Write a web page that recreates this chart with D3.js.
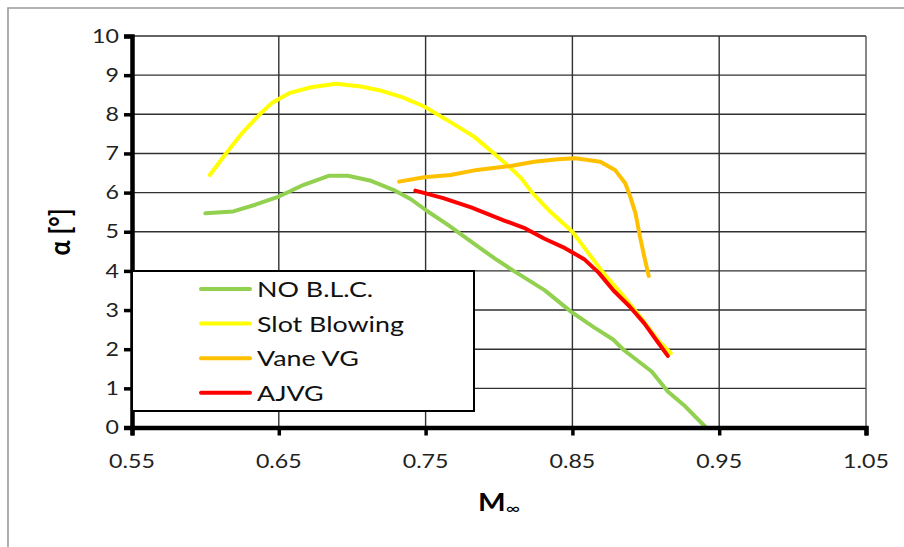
<!DOCTYPE html>
<html>
<head>
<meta charset="utf-8">
<script src="https://cdn.jsdelivr.net/npm/d3@7/dist/d3.min.js"></script>
<style>
  html, body { margin: 0; padding: 0; background: #fff; }
  svg { display: block; font-family: Lato, "Open Sans", sans-serif; }
</style>
</head>
<body>
<svg id="chart" width="904" height="547"></svg>
<script>
// Angle of attack α [°] against free-stream Mach number for four boundary-layer control cases
const seriesNames = ["NO B.L.C.", "Slot Blowing", "Vane VG", "AJVG"];
const seriesColors = ["#92D050", "#FFFF00", "#FFC000", "#FF0000"];

const noBLC = [
  [0.600,5.47],[0.619,5.52],[0.634,5.69],[0.650,5.90],[0.667,6.20],[0.684,6.43],
  [0.697,6.43],[0.712,6.31],[0.728,6.07],[0.740,5.83],[0.751,5.53],[0.765,5.18],
  [0.781,4.75],[0.797,4.32],[0.810,4.00],[0.831,3.51],[0.849,2.96],[0.865,2.55],
  [0.878,2.24],[0.885,1.98],[0.904,1.43],[0.915,0.92],[0.926,0.57],[0.941,0.00]
];
const slotBlowing = [
  [0.603,6.45],[0.614,7.00],[0.625,7.52],[0.637,8.00],[0.645,8.28],[0.657,8.54],
  [0.672,8.69],[0.689,8.78],[0.706,8.71],[0.719,8.61],[0.734,8.44],[0.749,8.20],
  [0.767,7.80],[0.783,7.43],[0.795,7.05],[0.807,6.66],[0.815,6.37],[0.823,5.98],
  [0.835,5.51],[0.850,5.00],[0.860,4.50],[0.871,3.95],[0.884,3.39],[0.897,2.79],
  [0.908,2.24],[0.917,1.90]
];
const vaneVG = [
  [0.732,6.28],[0.749,6.39],[0.767,6.45],[0.785,6.58],[0.808,6.68],[0.824,6.79],
  [0.840,6.85],[0.852,6.88],[0.869,6.79],[0.879,6.58],[0.886,6.24],[0.889,5.94],
  [0.893,5.47],[0.896,4.88],[0.899,4.36],[0.902,3.87]
];
const ajvg = [
  [0.743,6.05],[0.762,5.86],[0.781,5.62],[0.804,5.28],[0.817,5.10],[0.831,4.82],
  [0.845,4.58],[0.858,4.30],[0.868,3.95],[0.878,3.50],[0.889,3.09],[0.899,2.66],
  [0.908,2.19],[0.915,1.83]
];
const seriesData = [noBLC, slotBlowing, vaneVG, ajvg];

const xTicks = [0.55, 0.65, 0.75, 0.85, 0.95, 1.05];
const yTicks = [0, 1, 2, 3, 4, 5, 6, 7, 8, 9, 10];

const svg = d3.select("#chart");
const plot = { left: 132, right: 866, top: 36, bottom: 427.5 };
const stretch = 1.22; // horizontal stretch for text glyphs

const x = d3.scaleLinear().domain([0.55, 1.05]).range([plot.left, plot.right]);
const y = d3.scaleLinear().domain([0, 10]).range([plot.bottom, plot.top]);

// outer chart frame
svg.append("path")
  .attr("d", "M8,547 L8,8 L904,8")
  .attr("fill", "none").attr("stroke", "#9a9a9a").attr("stroke-width", 1.6);

// gridlines
const grid = svg.append("g");
grid.selectAll("line.h").data(yTicks.filter(d => d > 0)).join("line")
  .attr("x1", plot.left).attr("x2", plot.right)
  .attr("y1", d => y(d)).attr("y2", d => y(d))
  .attr("stroke", "#303030").attr("stroke-width", 1.4);
grid.selectAll("line.v").data(xTicks.filter(d => d > 0.55)).join("line")
  .attr("x1", d => x(d)).attr("x2", d => x(d))
  .attr("y1", plot.top).attr("y2", plot.bottom)
  .attr("stroke", d => d === 1.05 ? "#555" : "#303030").attr("stroke-width", 1.4);

// data lines
const line = d3.line().x(d => x(d[0])).y(d => y(d[1])).curve(d3.curveLinear);
svg.append("g").selectAll("path").data(seriesData).join("path")
  .attr("d", line)
  .attr("fill", "none")
  .attr("stroke", (d, i) => seriesColors[i])
  .attr("stroke-width", 4)
  .attr("stroke-linejoin", "round")
  .attr("stroke-linecap", "round");

// axes
const yAxis = svg.append("g").attr("transform", `translate(${plot.left},0)`)
  .call(d3.axisLeft(y).tickValues(yTicks).tickSize(8).tickFormat(""));
const xAxis = svg.append("g").attr("transform", `translate(0,${plot.bottom})`)
  .call(d3.axisBottom(x).tickValues(xTicks).tickSize(8).tickFormat(""));
[yAxis, xAxis].forEach(a => {
  a.select(".domain").attr("stroke", "#000").attr("stroke-width", 4.5);
  a.selectAll(".tick line").attr("stroke", "#000").attr("stroke-width", 3.5);
});

// tick labels
svg.append("g").selectAll("text").data(yTicks).join("text")
  .attr("transform", d => `translate(119,${y(d)}) scale(${stretch},1)`)
  .attr("text-anchor", "end").attr("dy", "0.35em")
  .attr("font-size", 19).attr("fill", "#222")
  .text(d => d);
svg.append("g").selectAll("text").data(xTicks).join("text")
  .attr("transform", d => `translate(${x(d)},468) scale(${stretch},1)`)
  .attr("text-anchor", "middle")
  .attr("font-size", 19).attr("fill", "#222")
  .text(d => d3.format(".2f")(d));

// axis titles
svg.append("text")
  .attr("transform", "translate(70,232) rotate(-90) scale(1,1.12)")
  .attr("text-anchor", "middle")
  .attr("font-size", 25).attr("font-weight", "bold")
  .text("α [°]");
const xt = svg.append("text")
  .attr("transform", `translate(478,511) scale(${stretch},1)`);
xt.append("tspan").attr("font-size", 24).attr("font-weight", "bold").text("M");
xt.append("tspan").attr("font-size", 16).attr("dy", 3).text("∞");

// legend
const legend = svg.append("g");
legend.append("rect")
  .attr("x", plot.left).attr("y", 271).attr("width", 474 - plot.left).attr("height", 140)
  .attr("fill", "#fff").attr("stroke", "#000").attr("stroke-width", 2);
const rows = legend.selectAll("g.row").data(seriesNames).join("g")
  .attr("transform", (d, i) => `translate(0,${289 + i * 34.6})`);
rows.append("line")
  .attr("x1", 201).attr("x2", 250).attr("y1", 0).attr("y2", 0)
  .attr("stroke", (d, i) => seriesColors[i]).attr("stroke-width", 4)
  .attr("stroke-linecap", "round");
rows.append("text")
  .attr("transform", `translate(257,0) scale(${stretch},1)`)
  .attr("dy", "0.36em")
  .attr("font-size", 22).attr("fill", "#111")
  .text(d => d);
</script>
</body>
</html>
